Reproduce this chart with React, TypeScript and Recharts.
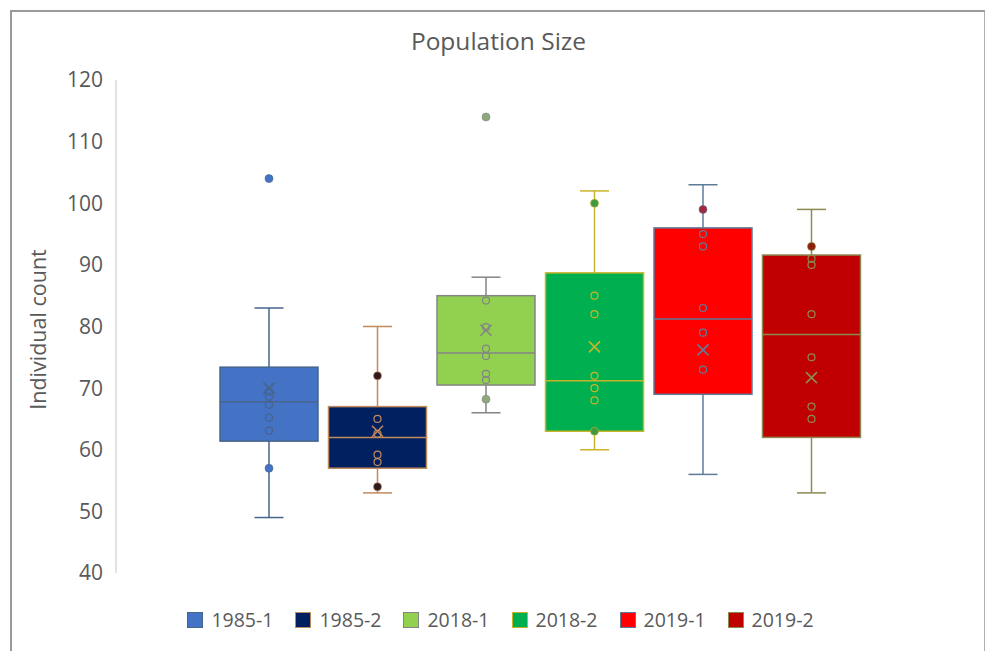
import { Bar, ComposedChart, Label, XAxis, YAxis } from "recharts";

const groups = ["1985-1", "1985-2", "2018-1", "2018-2", "2019-1", "2019-2"];
const whiskerLow = [49, 53, 66, 60, 56, 53];
const q1 = [61.4, 57, 70.5, 63, 69, 62];
const median = [67.8, 62, 75.7, 71.2, 81.2, 78.7];
const q3 = [73.4, 67, 85, 88.7, 96, 91.6];
const whiskerHigh = [83, 80, 88, 102, 103, 99];
const means = [70, 63, 79.4, 76.7, 76.2, 71.7];
const innerPoints = [
  [69.4, 68.6, 67.3, 65.2, 63.1],
  [65, 62.6, 59.2, 58],
  [84.2, 79.9, 76.4, 75.2, 72.3, 71.3],
  [85, 82, 72, 70, 68],
  [95, 93, 83, 79, 73],
  [91, 90, 82, 75, 67, 65],
];
const markedPoints = [[104, 57], [72, 54], [114, 68.2], [100, 63], [99], [93]];
const yTicks = [40, 50, 60, 70, 80, 90, 100, 110, 120];

const fills = ["#4472C4", "#002060", "#92D050", "#00B050", "#FF0000", "#C00000"];
const strokes = ["#46648C", "#C08A5C", "#858585", "#C8B42A", "#5E7B9A", "#8C8A52"];
const dotColors = ["#4472C4", "#2E1A1E", "#8FA87A", "#3F9A3F", "#A3283C", "#8E1E06"];

const FONT = "'Open Sans', sans-serif";
const TEXT = "#595959";

const data = groups.map((name, i) => {
  const all = [whiskerLow[i], whiskerHigh[i], ...innerPoints[i], ...markedPoints[i]];
  return { name, idx: i, range: [Math.min(...all), Math.max(...all)] };
});

function BoxShape(props: any) {
  const { x, y, width, height, payload } = props;
  const i = payload.idx;
  const [lo, hi] = payload.range;
  const top = Math.min(y, y + height);
  const h = Math.abs(height);
  const py = (v: number) => top + ((hi - v) / (hi - lo)) * h;
  const cx = x + width / 2;
  const s = strokes[i];
  const cap = 14.5;
  return (
    <g>
      <line x1={cx} x2={cx} y1={py(whiskerHigh[i])} y2={py(q3[i])} stroke={s} strokeWidth={1.5} />
      <line x1={cx} x2={cx} y1={py(q1[i])} y2={py(whiskerLow[i])} stroke={s} strokeWidth={1.5} />
      <line x1={cx - cap} x2={cx + cap} y1={py(whiskerHigh[i])} y2={py(whiskerHigh[i])} stroke={s} strokeWidth={1.5} />
      <line x1={cx - cap} x2={cx + cap} y1={py(whiskerLow[i])} y2={py(whiskerLow[i])} stroke={s} strokeWidth={1.5} />
      <rect
        x={x}
        y={py(q3[i])}
        width={width}
        height={py(q1[i]) - py(q3[i])}
        fill={fills[i]}
        stroke={s}
        strokeWidth={1.5}
      />
      <line x1={x} x2={x + width} y1={py(median[i])} y2={py(median[i])} stroke={s} strokeWidth={1.5} />
      {innerPoints[i].map((v, k) => (
        <circle key={"in" + k} cx={cx} cy={py(v)} r={3.5} fill="none" stroke={s} strokeWidth={1.2} />
      ))}
      {markedPoints[i].map((v, k) => (
        <circle key={"mk" + k} cx={cx} cy={py(v)} r={4} fill={dotColors[i]} stroke={s} strokeWidth={0.6} />
      ))}
      <path
        d={`M${cx - 5.5},${py(means[i]) - 5.5}L${cx + 5.5},${py(means[i]) + 5.5}M${cx - 5.5},${py(means[i]) + 5.5}L${cx + 5.5},${py(means[i]) - 5.5}`}
        stroke={s}
        strokeWidth={1.6}
      />
    </g>
  );
}

function YTitle(props: any) {
  const { viewBox } = props;
  const cx = 37;
  const cy = viewBox.y + viewBox.height / 2 + 3;
  return (
    <text
      x={cx}
      y={cy}
      transform={`rotate(-90, ${cx}, ${cy})`}
      textAnchor="middle"
      dominantBaseline="central"
      fill={TEXT}
      fontSize={21.5}
      fontFamily={FONT}
    >
      Individual count
    </text>
  );
}

export default function App() {
  return (
    <div style={{ position: "absolute", left: 0, top: 0, width: 985, height: 651, background: "#fff", overflow: "hidden" }}>
      <div
        style={{
          position: "absolute",
          left: 10,
          top: 10,
          width: 972,
          height: 660,
          borderLeft: "2px solid #9a9a9a",
          borderTop: "2px solid #9a9a9a",
          borderRight: "2px solid #b0b0b0",
        }}
      />
      <div
        style={{
          position: "absolute",
          left: 0,
          width: 985,
          top: 24,
          textAlign: "center",
          fontFamily: FONT,
          fontSize: 24.5,
          color: TEXT,
          paddingLeft: 12,
          boxSizing: "border-box",
        }}
      >
        Population Size
      </div>
      <div style={{ position: "absolute", left: 0, top: 0 }}>
        <ComposedChart width={985} height={651} data={data} margin={{ top: 80, right: 19, bottom: 78, left: 0 }}>
          <XAxis dataKey="name" hide padding={{ left: 99, right: 100 }} />
          <YAxis
            type="number"
            domain={[40, 120]}
            ticks={yTicks}
            width={116}
            tickLine={false}
            tickSize={0}
            tickMargin={13}
            axisLine={{ stroke: "#d9d9d9", strokeWidth: 1.5 }}
            tick={{ fill: TEXT, fontSize: 21, fontFamily: FONT }}
          >
            <Label content={<YTitle />} />
          </YAxis>
          <Bar dataKey="range" barSize={98} shape={<BoxShape />} isAnimationActive={false} />
        </ComposedChart>
      </div>
      <div
        style={{
          position: "absolute",
          left: 0,
          width: 985,
          top: 606,
          display: "flex",
          justifyContent: "center",
          paddingLeft: 16,
          boxSizing: "border-box",
          fontFamily: FONT,
          fontSize: 19.5,
          color: TEXT,
        }}
      >
        {groups.map((g, i) => (
          <div key={g} style={{ display: "flex", alignItems: "center", marginRight: i < groups.length - 1 ? 22 : 0 }}>
            <span
              style={{
                display: "inline-block",
                width: 14,
                height: 14,
                background: fills[i],
                border: `1px solid ${strokes[i]}`,
                marginRight: 8,
              }}
            />
            <span>{g}</span>
          </div>
        ))}
      </div>
    </div>
  );
}
